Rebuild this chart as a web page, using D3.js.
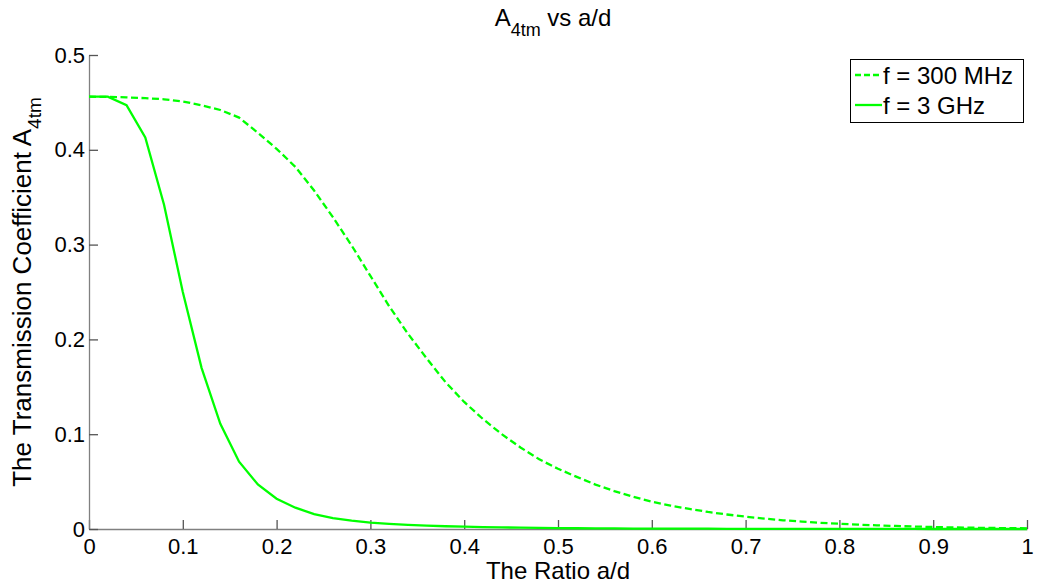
<!DOCTYPE html>
<html>
<head>
<meta charset="utf-8">
<script src="https://cdn.jsdelivr.net/npm/d3@7"></script>
<style>
  body { margin: 0; background: #fff; }
  svg { font-family: "Liberation Sans", Arial, sans-serif; }
  .axis path.domain { stroke: #808080; stroke-width: 1.3px; }
  .axis .tick line { stroke: #555; stroke-width: 1.3px; }
  .axis .tick text { fill: #000; font-size: 22px; }
</style>
</head>
<body>
<svg id="chart" width="1040" height="585"></svg>
<script>
// a/d sampled every 0.02
const ratios = d3.range(0, 51).map(i => +(i * 0.02).toFixed(2));

// f = 300 MHz (dashed)
const a300MHz = [
  0.456, 0.4558, 0.4553, 0.4545, 0.4533, 0.451, 0.447, 0.442, 0.434, 0.418,
  0.401, 0.382, 0.357, 0.329, 0.299, 0.267, 0.235, 0.206, 0.180, 0.155,
  0.134, 0.116, 0.100, 0.086, 0.0735, 0.0635, 0.055, 0.0468, 0.040, 0.034,
  0.0288, 0.0247, 0.0212, 0.018, 0.0153, 0.013, 0.011, 0.0092, 0.0078, 0.0065,
  0.0055, 0.0046, 0.0039, 0.0032, 0.0026, 0.0021, 0.0017, 0.0014, 0.0011, 0.0009,
  0.0007
];

// f = 3 GHz (solid)
const a3GHz = [
  0.456, 0.456, 0.447, 0.413, 0.342, 0.250, 0.170, 0.111, 0.071, 0.047,
  0.032, 0.0225, 0.0158, 0.0115, 0.0088, 0.0068, 0.0054, 0.0043, 0.0035, 0.0029,
  0.0024, 0.002, 0.0017, 0.0014, 0.0012, 0.001, 0.0008, 0.0007, 0.0006, 0.0005,
  0.0004, 0.0004, 0.0003, 0.0003, 0.0002, 0.0002, 0.0002, 0.0002, 0.0001, 0.0001,
  0.0001, 0.0001, 0.0001, 0.0001, 0.0001, 0, 0, 0, 0, 0,
  0
];

const xTicks = [0, 0.1, 0.2, 0.3, 0.4, 0.5, 0.6, 0.7, 0.8, 0.9, 1];
const xTickLabels = ["0", "0.1", "0.2", "0.3", "0.4", "0.5", "0.6", "0.7", "0.8", "0.9", "1"];
const yTicks = [0, 0.1, 0.2, 0.3, 0.4, 0.5];
const yTickLabels = ["0", "0.1", "0.2", "0.3", "0.4", "0.5"];

const seriesNames = ["f = 300 MHz", "f = 3 GHz"];

const margin = {left: 89, right: 13, top: 55, bottom: 56};
const width = 1040, height = 585;
const green = "#00ff00";

const svg = d3.select("#chart");

const x = d3.scaleLinear().domain([0, 1]).range([margin.left, width - margin.right]);
const y = d3.scaleLinear().domain([0, 0.5]).range([height - margin.bottom, margin.top]);

// axes, ticks pointing inward like matlab
svg.append("g")
  .attr("class", "axis")
  .attr("transform", `translate(0,${height - margin.bottom})`)
  .call(d3.axisBottom(x).tickValues(xTicks)
    .tickFormat((d, i) => xTickLabels[i])
    .tickSizeInner(-9).tickSizeOuter(0).tickPadding(9));

svg.append("g")
  .attr("class", "axis")
  .attr("transform", `translate(${margin.left},0)`)
  .call(d3.axisLeft(y).tickValues(yTicks)
    .tickFormat((d, i) => yTickLabels[i])
    .tickSizeInner(-9).tickSizeOuter(0).tickPadding(4));

const line = d3.line()
  .x((d, i) => x(ratios[i]))
  .y(d => y(d));

svg.append("path")
  .datum(a300MHz)
  .attr("d", line)
  .attr("fill", "none")
  .attr("stroke", green)
  .attr("stroke-width", 2.3)
  .attr("stroke-dasharray", "7,3.5");

svg.append("path")
  .datum(a3GHz)
  .attr("d", line)
  .attr("fill", "none")
  .attr("stroke", green)
  .attr("stroke-width", 2.3);

// title
const title = svg.append("text")
  .attr("x", 553).attr("y", 26)
  .attr("text-anchor", "middle")
  .style("font-size", "24px");
title.append("tspan").text("A");
title.append("tspan").attr("dy", 10).style("font-size", "18px").text("4tm");
title.append("tspan").attr("dy", -10).text(" vs a/d");

// x label
svg.append("text")
  .attr("x", 558).attr("y", 579)
  .attr("text-anchor", "middle")
  .style("font-size", "24px")
  .text("The Ratio a/d");

// y label
const ylab = svg.append("text")
  .attr("transform", "translate(31,292) rotate(-90)")
  .attr("text-anchor", "middle")
  .style("font-size", "26px");
ylab.append("tspan").text("The Transmission Coefficient A");
ylab.append("tspan").attr("dy", 10).style("font-size", "19px").text("4tm");

// legend
const lg = svg.append("g");
lg.append("rect")
  .attr("x", 850.5).attr("y", 59.5)
  .attr("width", 173).attr("height", 63)
  .attr("fill", "#fff").attr("stroke", "#000").attr("stroke-width", 1);

seriesNames.forEach((name, i) => {
  const yy = 75 + i * 30;
  lg.append("line")
    .attr("x1", 855).attr("x2", 882)
    .attr("y1", yy).attr("y2", yy)
    .attr("stroke", green).attr("stroke-width", 2.3)
    .attr("stroke-dasharray", i === 0 ? "6,3" : null);
  lg.append("text")
    .attr("x", 883).attr("y", yy + 9)
    .style("font-size", "24px")
    .text(name);
});
</script>
</body>
</html>
